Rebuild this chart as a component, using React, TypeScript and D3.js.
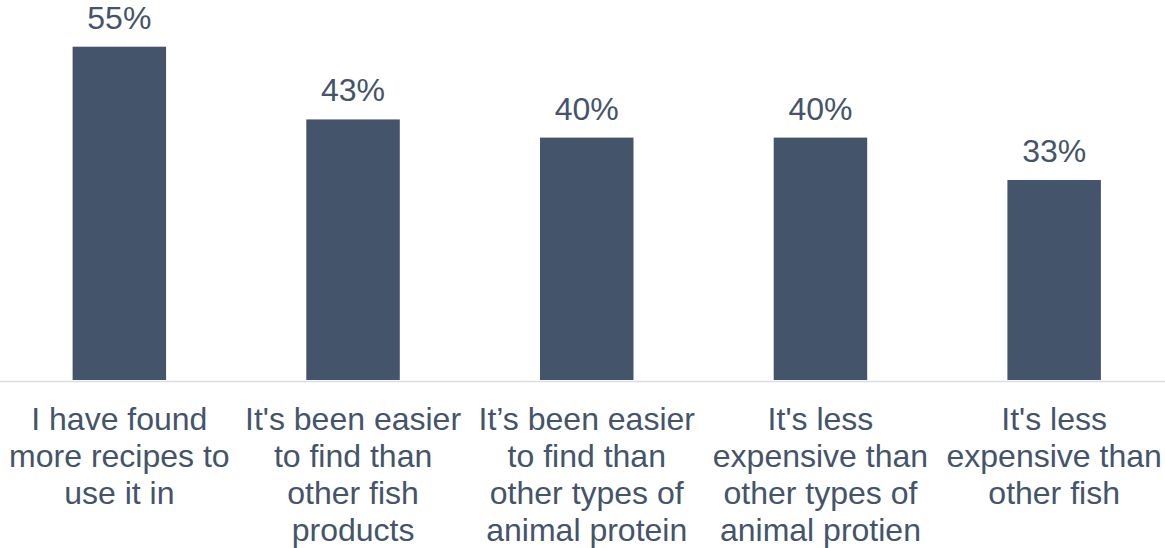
import React from "react";
import * as d3 from "d3";

const categories: string[][] = [
  ["I have found", "more recipes to", "use it in"],
  ["It's been easier", "to find than", "other fish", "products"],
  ["It’s been easier", "to find than", "other types of", "animal protein"],
  ["It's less", "expensive than", "other types of", "animal protien"],
  ["It's less", "expensive than", "other fish"],
];
const values: number[] = [55, 43, 40, 40, 33];
const valueLabels: string[] = ["55%", "43%", "40%", "40%", "33%"];

const W = 1165;
const H = 548;
const COLOR = "#44546A";
const FONT = "'Liberation Sans', Arial, sans-serif";

export default function App() {
  const idx = values.map((_, i) => i);
  const x = d3.scaleBand<number>().domain(idx).range([2.5, 1171]).paddingInner(0.6).paddingOuter(0.3);
  const y = d3.scaleLinear().domain([0, 55]).range([380, 46.7]);
  const bw = x.bandwidth();
  return (
    <svg width={W} height={H} style={{ position: "absolute", left: 0, top: 0, background: "#fff" }}>
      <line x1={0} x2={W} y1={381.5} y2={381.5} stroke="#d9dde3" strokeWidth={1.6} />
      {idx.map((i) => {
        const cx = (x(i) as number) + bw / 2;
        return (
          <g key={i}>
            <rect x={x(i)} y={y(values[i])} width={bw} height={y(0) - y(values[i])} fill={COLOR} />
            <text x={cx} y={y(values[i]) - 18} textAnchor="middle" fontFamily={FONT} fontSize={32} fill={COLOR}>
              {valueLabels[i]}
            </text>
            <text textAnchor="middle" fontFamily={FONT} fontSize={32} fill={COLOR}>
              {categories[i].map((line, j) => (
                <tspan key={j} x={cx} y={430 + j * 37}>
                  {line}
                </tspan>
              ))}
            </text>
          </g>
        );
      })}
    </svg>
  );
}
